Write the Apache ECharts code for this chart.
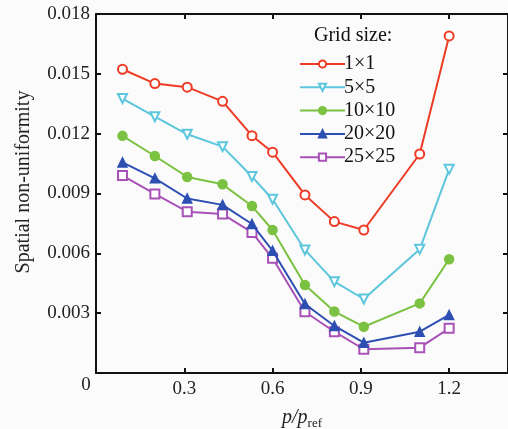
<!DOCTYPE html>
<html>
<head>
<meta charset="utf-8">
<script src="https://cdn.jsdelivr.net/npm/echarts@6/dist/echarts.min.js"></script>
<style>html,body{margin:0;padding:0;background:#fbfbfb;}#c{width:508px;height:429px;}</style>
</head>
<body>
<div id="c"></div>
<script>
var xValues = [0.09, 0.2, 0.31, 0.43, 0.53, 0.6, 0.71, 0.81, 0.91, 1.1, 1.2];
var seriesNames = ['1\u00d71', '5\u00d75', '10\u00d710', '20\u00d720', '25\u00d725'];
var grid1 = [0.01523, 0.01451, 0.01433, 0.01362, 0.0119, 0.01107, 0.00893, 0.00759, 0.00717, 0.01098, 0.0169];
var grid5 = [0.01376, 0.01285, 0.01197, 0.01135, 0.00985, 0.00871, 0.00617, 0.00458, 0.00371, 0.0062, 0.01021];
var grid10 = [0.01189, 0.01088, 0.00983, 0.00946, 0.00837, 0.00717, 0.00441, 0.00308, 0.00232, 0.00349, 0.0057];
var grid20 = [0.01056, 0.00976, 0.00875, 0.00843, 0.00747, 0.00613, 0.00346, 0.00236, 0.00152, 0.00207, 0.00291];
var grid25 = [0.0099, 0.00898, 0.00809, 0.00797, 0.00705, 0.00575, 0.00307, 0.00207, 0.00119, 0.00127, 0.00224];
var xTicks = [0, 0.3, 0.6, 0.9, 1.2];
var yTicks = [0, 0.003, 0.006, 0.009, 0.012, 0.015, 0.018];

var FONT = 'Liberation Serif';
var colors = ['#ee3b25', '#5cc6dc', '#7cc242', '#2d4fb2', '#a852b8'];
var symbols = ['emptyCircle', 'emptyTriangle', 'circle', 'triangle', 'emptyRect'];
var rotations = [0, 180, 0, 0, 0];
var allY = [grid1, grid5, grid10, grid20, grid25];

function pairs(ys) { return xValues.map(function (x, i) { return [x, ys[i]]; }); }

var axisLineStyle = { color: '#111', width: 2 };
function baseX(pos, showLabel) {
  return {
    type: 'value', position: pos, min: 0, max: 1.4, interval: 0.3,
    axisLine: { show: true, onZero: false, lineStyle: axisLineStyle },
    axisTick: { show: true, inside: true, length: 5, lineStyle: { color: '#111', width: 2 } },
    splitLine: { show: false },
    axisLabel: {
      show: showLabel, showMaxLabel: false, showMinLabel: false, margin: 7,
      fontFamily: FONT, fontSize: 19, color: '#222',
      formatter: function (v) {
        var t = xTicks.filter(function (k) { return Math.abs(k - v) < 1e-9; });
        return t.length && v !== 0 ? t[0].toFixed(1) : '';
      }
    }
  };
}
function baseY(pos, showLabel) {
  return {
    type: 'value', position: pos, min: 0, max: 0.018, interval: 0.003,
    axisLine: { show: true, onZero: false, lineStyle: axisLineStyle },
    axisTick: { show: true, inside: true, length: 5, lineStyle: { color: '#111', width: 2 } },
    splitLine: { show: false },
    axisLabel: {
      show: showLabel, margin: 6, fontFamily: FONT, fontSize: 19, color: '#222',
      formatter: function (v) {
        var t = yTicks.filter(function (k) { return Math.abs(k - v) < 1e-9; });
        return t.length && v !== 0 ? t[0].toFixed(3) : '';
      }
    }
  };
}

var chart = echarts.init(document.getElementById('c'), null, { renderer: 'canvas' });
chart.setOption({
  backgroundColor: '#fbfbfb',
  animation: false,
  grid: { left: 96, top: 14, width: 415, height: 359, containLabel: false },
  xAxis: [baseX('bottom', true), baseX('top', false)],
  yAxis: [baseY('left', true), baseY('right', false)],
  legend: {
    orient: 'vertical', left: 294, top: 49, itemWidth: 45, itemHeight: 9, itemGap: 3.3,
    data: seriesNames,
    textStyle: { fontFamily: FONT, fontSize: 20, lineHeight: 19, color: '#111', padding: [0, 0, 0, -6] }
  },
  graphic: [
    { type: 'text', left: 314, top: 26, style: { text: 'Grid size:', font: '20px "Liberation Serif"', fill: '#111' } },
    { type: 'text', x: 86, y: 385, style: { text: '0', font: '19px "Liberation Serif"', fill: '#222', align: 'center', verticalAlign: 'middle' } },
    { type: 'text', x: 24, y: 182, rotation: Math.PI / 2,
      style: { text: 'Spatial non-uniformity', font: '20px "Liberation Serif"', fill: '#222', align: 'center', verticalAlign: 'middle' } },
    { type: 'text', x: 282, y: 405,
      style: { text: '{a|p/p}{b|ref}', rich: {
        a: { fontFamily: FONT, fontSize: 20, fontStyle: 'italic', fill: '#222', color: '#222' },
        b: { fontFamily: FONT, fontSize: 13, fill: '#222', color: '#222', padding: [12, 0, 0, 0] }
      } } }
  ],
  series: allY.map(function (ys, i) {
    return {
      name: seriesNames[i], type: 'line', data: pairs(ys),
      xAxisIndex: 0, yAxisIndex: 0,
      symbol: symbols[i], symbolSize: 9, symbolRotate: rotations[i],
      lineStyle: { color: colors[i], width: 2 },
      itemStyle: { color: colors[i], borderColor: colors[i], borderWidth: 1.5 },
      z: 10 - i
    };
  })
});
</script>
</body>
</html>
